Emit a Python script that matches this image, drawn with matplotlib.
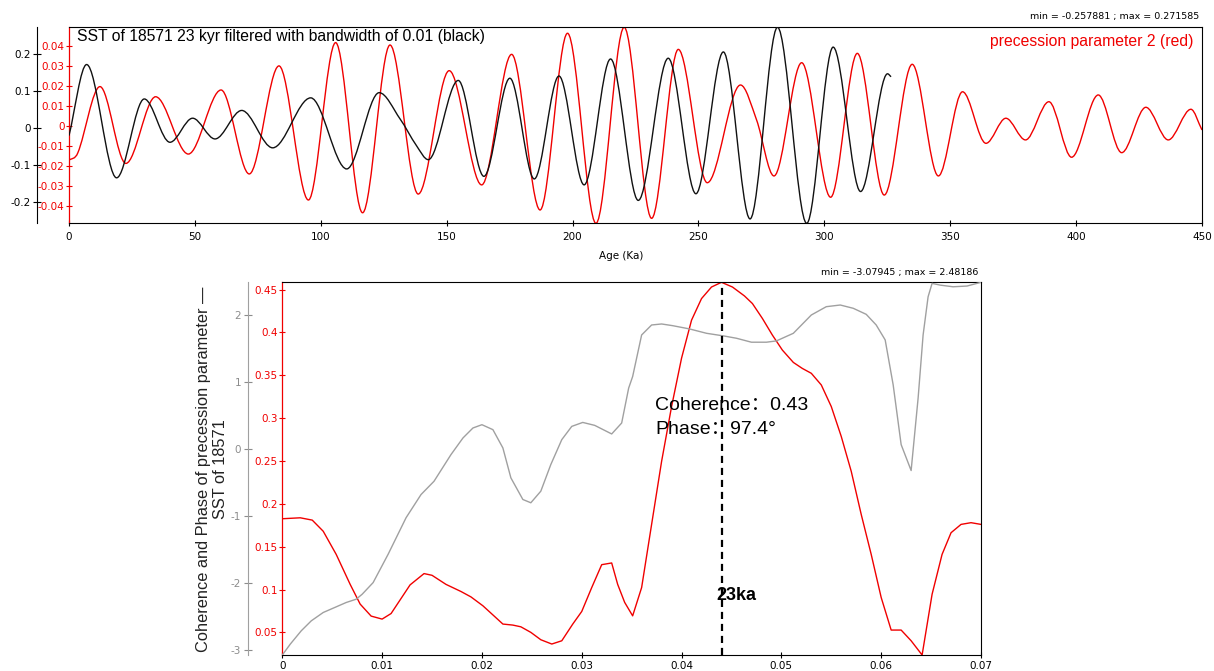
import numpy as np
import matplotlib
matplotlib.use("Agg")
import matplotlib.pyplot as plt
from matplotlib.path import Path
from matplotlib.patches import PathPatch
from matplotlib.ticker import FuncFormatter

plt.rcParams['font.family'] = ['DejaVu Sans']
plt.rcParams['axes.unicode_minus'] = False
TEXT_FONT = ['Liberation Sans', 'Noto Sans CJK SC', 'DejaVu Sans']

# ---------------------------------------------------------------------------
# Upper panel: 23 kyr band-pass filtered SST (black) and precession (red)
# turning points of each record, age in ka
age_sst = [0, 7.0, 18.9, 29.9, 40.1, 49.1, 58.0, 68.6, 80.9, 96.0, 110.3,
           123.2, 131.5, 138.0, 142.7, 154.6, 164.8, 175.1, 184.8, 194.6,
           204.6, 215.1, 226.1, 238.0, 249.0, 259.9, 270.5, 281.4, 293.0,
           303.5, 314.4, 325.1, 326.5]
sst_23k = [-0.021, 0.171, -0.135, 0.078, -0.039, 0.026, -0.030, 0.047,
           -0.054, 0.081, -0.111, 0.095, 0.024, -0.048, -0.086, 0.128,
           -0.131, 0.134, -0.138, 0.140, -0.154, 0.186, -0.196, 0.188,
           -0.178, 0.205, -0.246, 0.2716, -0.2579, 0.218, -0.172, 0.146,
           0.138]

age_prec = [0, 3.5, 12.3, 22.6, 34.4, 47.4, 60.4, 71.6, 83.4, 95.1, 105.9,
            116.6, 127.5, 138.7, 151.0, 163.9, 175.8, 187.1, 198.0, 209.3,
            220.5, 231.4, 242.0, 253.5, 266.7, 273.1, 280.0, 291.0, 302.5,
            313.1, 323.8, 334.9, 345.3, 354.9, 364.2, 372.1, 379.9, 389.2,
            398.2, 408.8, 418.1, 427.7, 436.6, 445.6, 450.0]
prec_param = [-0.0172, -0.0135, 0.0198, -0.0188, 0.0147, -0.0141, 0.0181,
              -0.0241, 0.0302, -0.0372, 0.0419, -0.0436, 0.0407, -0.0342,
              0.0278, -0.0296, 0.0360, -0.0422, 0.0466, -0.0489, 0.0496,
              -0.0464, 0.0385, -0.0285, 0.0206, 0.0030, -0.0251, 0.0318,
              -0.0358, 0.0365, -0.0347, 0.0310, -0.0251, 0.0172, -0.0087,
              0.0039, -0.0070, 0.0122, -0.0157, 0.0156, -0.0134, 0.0094,
              -0.0070, 0.0084, -0.0020]

sst_range = (-0.257881, 0.271585)
prec_range = (-0.0489, 0.0496)
age_ticks = [0, 50, 100, 150, 200, 250, 300, 350, 400, 450]
sst_ticks = [-0.2, -0.1, 0, 0.1, 0.2]
prec_ticks = [-0.04, -0.03, -0.02, -0.01, 0, 0.01, 0.02, 0.03, 0.04]

# ---------------------------------------------------------------------------
# Lower panel: cross-spectral coherence (red) and phase (grey)
freq = [0, 0.0018, 0.0030, 0.0041, 0.0054, 0.0068, 0.0078, 0.0089, 0.0100,
        0.0109, 0.0128, 0.0142, 0.0150, 0.0164, 0.0179, 0.0189, 0.0201,
        0.0212, 0.0221, 0.0231, 0.0239, 0.0249, 0.0259, 0.0270, 0.0280,
        0.0291, 0.0300, 0.0310, 0.0320, 0.0330, 0.0336, 0.0343, 0.0351,
        0.0360, 0.0370, 0.0380, 0.0390, 0.0400, 0.0410, 0.0420, 0.0430,
        0.0440, 0.0451, 0.0463, 0.0471, 0.0481, 0.0491, 0.0501, 0.0512,
        0.0521, 0.0530, 0.0540, 0.0550, 0.0560, 0.0570, 0.0580, 0.0590,
        0.0600, 0.0610, 0.0620, 0.0630, 0.0641, 0.0651, 0.0661, 0.0670,
        0.0680, 0.0690, 0.0700]
coherence = [0.1826, 0.1837, 0.181, 0.168, 0.141, 0.106, 0.083, 0.069,
             0.0655, 0.072, 0.1054, 0.1186, 0.1166, 0.106, 0.0977, 0.0914,
             0.081, 0.0693, 0.0597, 0.0585, 0.0565, 0.050, 0.0414, 0.0364,
             0.0402, 0.0597, 0.0744, 0.1023, 0.129, 0.131, 0.106, 0.085,
             0.0693, 0.1023, 0.176, 0.2495, 0.3135, 0.370, 0.4143, 0.4395,
             0.453, 0.4585, 0.453, 0.4426, 0.4337, 0.4163, 0.3969, 0.3794,
             0.365, 0.358, 0.3523, 0.3387, 0.3135, 0.2786, 0.2379, 0.1876,
             0.141, 0.0907, 0.0527, 0.0527, 0.0402, 0.0236, 0.0945, 0.141,
             0.1663, 0.176, 0.178, 0.176]

freq_phase = [0, 0.0008, 0.0019, 0.0029, 0.0041, 0.0054, 0.0064, 0.0074,
              0.0080, 0.0091, 0.0106, 0.0124, 0.0139, 0.0152, 0.0169,
              0.0181, 0.0191, 0.0200, 0.0211, 0.0221, 0.0229, 0.0241,
              0.0249, 0.0259, 0.0269, 0.0280, 0.0290, 0.0301, 0.0313,
              0.0330, 0.0340, 0.0347, 0.0351, 0.0360, 0.0370, 0.0380,
              0.0391, 0.0408, 0.0425, 0.0442, 0.0455, 0.0470, 0.0485,
              0.0495, 0.0512, 0.0530, 0.0545, 0.0559, 0.0572, 0.0585,
              0.0595, 0.0604, 0.0612, 0.0620, 0.0630, 0.0637, 0.0642,
              0.0647, 0.0651, 0.0659, 0.0672, 0.0686, 0.0700]
phase = [-3.0795, -2.917, -2.718, -2.57, -2.445, -2.361, -2.296, -2.247,
         -2.173, -1.999, -1.577, -1.031, -0.685, -0.487, -0.089, 0.159,
         0.308, 0.357, 0.283, 0.01, -0.436, -0.759, -0.808, -0.635, -0.238,
         0.134, 0.332, 0.391, 0.347, 0.219, 0.382, 0.903, 1.076, 1.696,
         1.845, 1.860, 1.835, 1.786, 1.721, 1.682, 1.647, 1.588, 1.588,
         1.607, 1.721, 1.994, 2.118, 2.143, 2.094, 2.004, 1.845, 1.622,
         0.952, 0.06, -0.327, 0.754, 1.696, 2.266, 2.466, 2.44, 2.415,
         2.426, 2.4819]

phase_range = (-3.07945, 2.48186)
coh_range = (0.0236, 0.4585)
freq_ticks = [0, 0.01, 0.02, 0.03, 0.04, 0.05, 0.06, 0.07]
coh_ticks = [0.05, 0.1, 0.15, 0.2, 0.25, 0.3, 0.35, 0.4, 0.45]
phase_ticks = [-3, -2, -1, 0, 1, 2]

band_period_ka = 22.7
coh_at_band = 0.43
phase_at_band = 97.4

RED = '#f00000'
GREY = '#a0a0a0'
GREY_TXT = '#8c8c8c'


def smooth_curve(ax, t, v, **kw):
    """Draw a smooth cubic (Bezier) curve through the given nodes."""
    t = np.asarray(t, float)
    v = np.asarray(v, float)
    n = len(t)
    slope = np.zeros(n)
    for i in range(n):
        if i == 0:
            slope[i] = (v[1] - v[0]) / (t[1] - t[0])
        elif i == n - 1:
            slope[i] = (v[-1] - v[-2]) / (t[-1] - t[-2])
        else:
            a = v[i] - v[i - 1]
            b = v[i + 1] - v[i]
            slope[i] = 0.0 if a * b <= 0 else (v[i + 1] - v[i - 1]) / (t[i + 1] - t[i - 1])
    verts = [(t[0], v[0])]
    codes = [Path.MOVETO]
    for i in range(n - 1):
        h = (t[i + 1] - t[i]) / 3.0
        verts += [(t[i] + h, v[i] + slope[i] * h),
                  (t[i + 1] - h, v[i + 1] - slope[i + 1] * h),
                  (t[i + 1], v[i + 1])]
        codes += [Path.CURVE4] * 3
    ax.add_patch(PathPatch(Path(verts, codes), fill=False, **kw))


fmt = FuncFormatter(lambda x, _: f"{x:g}")

W, H = 1214, 671
fig = plt.figure(figsize=(W / 100, H / 100), dpi=100)
fig.patch.set_facecolor('white')

# ----------------------------- upper panel ---------------------------------
ax1 = fig.add_axes([69 / W, 1 - 223.3 / H, (1202 - 69) / W, (223.3 - 27.3) / H])
ax1.set_xlim(0, 450)
ax1.set_ylim(*prec_range)
smooth_curve(ax1, age_prec, prec_param, edgecolor=RED, lw=1.0, zorder=2)
ax1.set_xticks(age_ticks)
ax1.set_yticks(prec_ticks)
ax1.yaxis.set_major_formatter(fmt)
ax1.xaxis.set_major_formatter(fmt)
ax1.tick_params(axis='y', direction='inout', length=4.5, width=0.8,
                colors=RED, labelsize=7.5, pad=1)
ax1.tick_params(axis='x', direction='inout', length=5, width=0.8,
                labelsize=7.5, pad=3.5)
for s in ('top', 'right', 'bottom'):
    ax1.spines[s].set_linewidth(0.8)
ax1.spines['left'].set_color(RED)
ax1.spines['left'].set_linewidth(0.9)

ax1b = ax1.twinx()
ax1b.set_ylim(*sst_range)
smooth_curve(ax1b, age_sst, sst_23k, edgecolor='#111111', lw=1.0, zorder=3)
ax1b.yaxis.tick_left()
ax1b.yaxis.set_label_position('left')
ax1b.set_yticks(sst_ticks)
ax1b.yaxis.set_major_formatter(fmt)
ax1b.spines['left'].set_position(('outward', 23))
ax1b.spines['left'].set_linewidth(0.8)
for s in ('top', 'right', 'bottom'):
    ax1b.spines[s].set_visible(False)
ax1b.tick_params(axis='y', direction='inout', length=6, width=0.8,
                 colors='black', labelsize=7.5, pad=1.5)

ax1.text(0.007, 0.954, 'SST of 18571 23 kyr filtered with bandwidth of 0.01 (black)',
         transform=ax1.transAxes, ha='left', va='center', fontsize=11.3,
         family=TEXT_FONT, color='black', zorder=5)
ax1.text(0.992, 0.929, 'precession parameter 2 (red)', transform=ax1.transAxes,
         ha='right', va='center', fontsize=11.3, family=TEXT_FONT, color=RED,
         zorder=5)
fig.text(1199 / W, 1 - 17 / H,
         f"min = {sst_range[0]:g} ; max = {sst_range[1]:g}",
         ha='right', va='center', fontsize=6.8)
fig.text(621 / W, 1 - 256 / H, 'Age (Ka)', ha='center', va='center', fontsize=7.5)

# ----------------------------- lower panel ---------------------------------
ax2 = fig.add_axes([282.3 / W, 1 - 655 / H, (981 - 282.3) / W, (655 - 282.3) / H])
ax2.set_xlim(0, 0.07)
ax2.set_ylim(*coh_range)
ax2.plot(freq, coherence, color=RED, lw=1.0, zorder=2)
ax2.set_xticks(freq_ticks)
ax2.set_yticks(coh_ticks)
ax2.xaxis.set_major_formatter(fmt)
ax2.yaxis.set_major_formatter(fmt)
ax2.tick_params(axis='y', direction='inout', length=5, width=0.8,
                colors=RED, labelsize=7.5, pad=1)
ax2.tick_params(axis='x', direction='inout', length=5, width=0.8,
                labelsize=7.5, pad=1.5)
for s in ('top', 'right', 'bottom'):
    ax2.spines[s].set_linewidth(0.8)
ax2.spines['left'].set_color(RED)
ax2.spines['left'].set_linewidth(0.9)

ax2b = ax2.twinx()
ax2b.set_ylim(*phase_range)
ax2b.plot(freq_phase, phase, color=GREY, lw=1.0, zorder=2)
ax2b.yaxis.tick_left()
ax2b.yaxis.set_label_position('left')
ax2b.set_yticks(phase_ticks)
ax2b.yaxis.set_major_formatter(fmt)
ax2b.spines['left'].set_position(('outward', 24.5))
ax2b.spines['left'].set_color(GREY)
ax2b.spines['left'].set_linewidth(0.8)
for s in ('top', 'right', 'bottom'):
    ax2b.spines[s].set_visible(False)
ax2b.tick_params(axis='y', direction='inout', length=6, width=0.8,
                 colors=GREY_TXT, labelsize=7.5, pad=2)

band_freq = 1.0 / band_period_ka
ax2b.axvline(band_freq, color='black', lw=1.6, dashes=(3.2, 2.2), zorder=4)
ax2b.text((655 - 282.3) / 698.7, (655 - 405) / 372.7,
          f"Coherence：{coh_at_band:.2f}", transform=ax2b.transAxes,
          ha='left', va='center', fontsize=14, family=TEXT_FONT, zorder=5)
ax2b.text((655 - 282.3) / 698.7, (655 - 430) / 372.7,
          f"Phase：{phase_at_band:.1f}°", transform=ax2b.transAxes,
          ha='left', va='center', fontsize=14, family=TEXT_FONT, zorder=5)
ax2b.text((716 - 282.3) / 698.7, (655 - 595) / 372.7,
          f"{band_period_ka:.0f}ka", transform=ax2b.transAxes,
          ha='left', va='center', fontsize=13, fontweight='bold',
          family=TEXT_FONT, zorder=5)

fig.text(978 / W, 1 - 272 / H,
         f"min = {phase_range[0]:g} ; max = {phase_range[1]:g}",
         ha='right', va='center', fontsize=6.8)
fig.text(212 / W, 1 - 469 / H,
         'Coherence and Phase of precession parameter —\nSST of 18571',
         rotation=90, ha='center', va='center', multialignment='center',
         fontsize=11.8, family=TEXT_FONT, color='#222222', linespacing=1.1)

fig.savefig('out.png', dpi=100, facecolor='white')
